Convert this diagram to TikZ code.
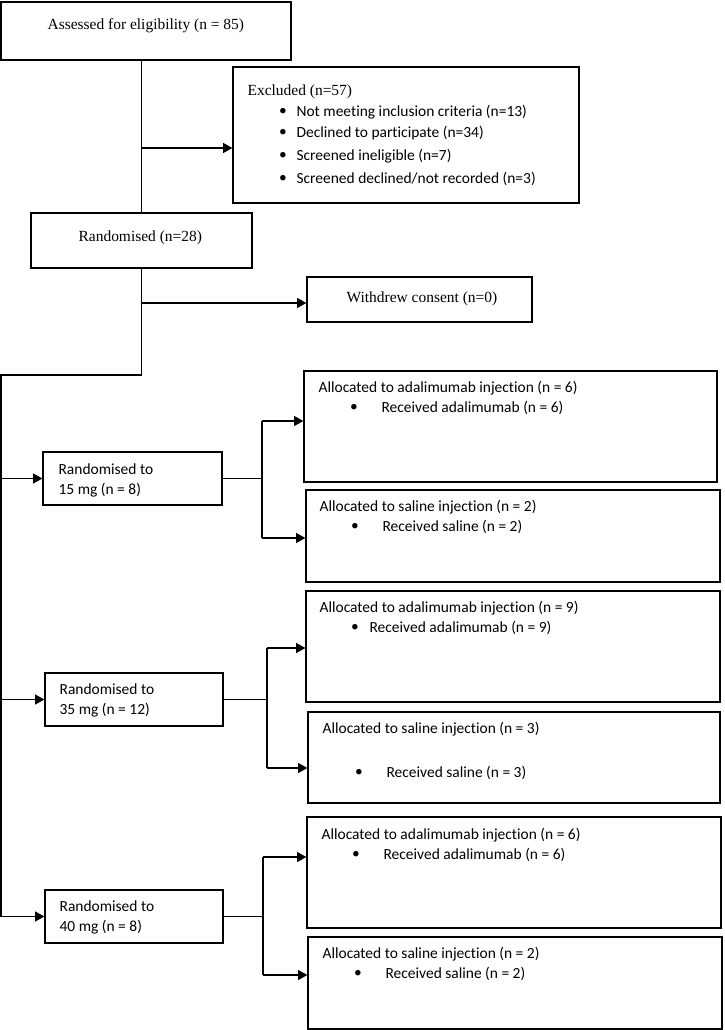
\documentclass[tikz,border=0pt]{standalone}
\usepackage{fontspec}
\setmainfont{Liberation Serif}
\newfontfamily\calibri[Ligatures=NoCommon]{Carlito}
\usetikzlibrary{arrows.meta,fit}

\begin{document}
\begin{tikzpicture}[x=0.75pt, y=-0.75pt, line width=0.9pt]
	\tikzset{
	  BoxStyle/.style = {draw, inner sep=0pt, fit={#1}},
	  TimesStyle/.style = {inner sep=0pt, anchor=west,
	                       font=\fontsize{11.6}{14}\selectfont},
	  CalStyle/.style = {inner sep=0pt, anchor=west, align=left,
	                     font=\calibri\fontsize{11.6}{15}\selectfont},
	  DotStyle/.style = {CalStyle, anchor=center},
	  EdgeStyle/.style = {-{Triangle[length=7pt, width=7.5pt]}} }
	\useasboundingbox (0,0) rectangle (724,1030);
%	\draw[help lines, step=50] (0,0) grid (724,1030);
	\node[BoxStyle={(1,2) (291,60)}] (assess) {};
	\node[BoxStyle={(233,67) (579,203)}] (excl) {};
	\node[BoxStyle={(31,213) (252,268)}] (rand) {};
	\node[BoxStyle={(307,277) (532,322)}] (withdrew) {};
	\node[BoxStyle={(43,452) (222,505)}] (dose15) {};
	\node[BoxStyle={(45,673) (223,726)}] (dose35) {};
	\node[BoxStyle={(45,890) (223,943)}] (dose40) {};
	\node[BoxStyle={(304,371) (717,482)}] (ada15) {};
	\node[BoxStyle={(306,490) (720,582)}] (sal15) {};
	\node[BoxStyle={(306,591) (720,702)}] (ada35) {};
	\node[BoxStyle={(308,712) (720,803)}] (sal35) {};
	\node[BoxStyle={(307,817) (721,928)}] (ada40) {};
	\node[BoxStyle={(308,937) (722,1029)}] (sal40) {};

	\node[TimesStyle] (assess-t) at (47,26) {Assessed for eligibility (n = 85)};
	\node[TimesStyle] (excl-t) at (247,92) {Excluded (n=57)};
	\foreach \y/\txt [count=\i] in {112/{Not meeting inclusion criteria (n=13)},
	    133/{Declined to participate (n=34)}, 156/{Screened ineligible (n=7)},
	    179/{Screened declined/not recorded (n=3)}} {
	  \node[DotStyle] (excl-b\i) at (283,\y) {\textbullet};
	  \node[CalStyle] (excl-i\i) at (296,\y) {\txt};
	}
	\node[TimesStyle] (rand-t) at (78,238) {Randomised (n=28)};
	\node[TimesStyle] (withdrew-t) at (346,299) {Withdrew consent (n=0)};

	\node[CalStyle] (dose15-t) at (58,480) {Randomised to\\15 mg (n = 8)};
	\node[CalStyle] (dose35-t) at (59,700) {Randomised to\\35 mg (n = 12)};
	\node[CalStyle] (dose40-t) at (59,917) {Randomised to\\40 mg (n = 8)};

	\node[CalStyle] (ada15-t) at (318,388) {Allocated to adalimumab injection (n = 6)};
	\node[DotStyle] (ada15-b) at (354,408) {\textbullet};
	\node[CalStyle] (ada15-i) at (381,408) {Received adalimumab (n = 6)};
	\node[CalStyle] (sal15-t) at (319,507) {Allocated to saline injection (n = 2)};
	\node[DotStyle] (sal15-b) at (355,527) {\textbullet};
	\node[CalStyle] (sal15-i) at (382,527) {Received saline (n = 2)};
	\node[CalStyle] (ada35-t) at (319,608) {Allocated to adalimumab injection (n = 9)};
	\node[DotStyle] (ada35-b) at (355,628) {\textbullet};
	\node[CalStyle] (ada35-i) at (369,628) {Received adalimumab (n = 9)};
	\node[CalStyle] (sal35-t) at (322,729) {Allocated to saline injection (n = 3)};
	\node[DotStyle] (sal35-b) at (359,773) {\textbullet};
	\node[CalStyle] (sal35-i) at (386,773) {Received saline (n = 3)};
	\node[CalStyle] (ada40-t) at (321,835) {Allocated to adalimumab injection (n = 6)};
	\node[DotStyle] (ada40-b) at (356,855) {\textbullet};
	\node[CalStyle] (ada40-i) at (383,855) {Received adalimumab (n = 6)};
	\node[CalStyle] (sal40-t) at (322,954) {Allocated to saline injection (n = 2)};
	\node[DotStyle] (sal40-b) at (358,974) {\textbullet};
	\node[CalStyle] (sal40-i) at (385,974) {Received saline (n = 2)};

	\coordinate (j1) at (141,148);
	\coordinate (j2) at (141,303);
	\coordinate (j3) at (1,375);
	\draw (assess.south -| rand.north) -- (rand.north);
	\draw[EdgeStyle] (j1) -- (j1 -| excl.west);
	\draw[EdgeStyle] (j2) -- (j2 -| withdrew.west);
	\draw (rand.south) |- (j3) -- (j3 |- dose40.west);
	\foreach \g/\x/\ya/\ys in {15/262/421/538, 35/267/648/768, 40/263/857/975} {
	  \coordinate (a\g) at (\x,\ya);
	  \coordinate (s\g) at (\x,\ys);
	  \draw[EdgeStyle] (j3 |- dose\g.west) -- (dose\g.west);
	  \draw (dose\g.east) -- (dose\g.east -| a\g);
	  \draw (a\g) -- (s\g);
	  \draw[EdgeStyle] (a\g) -- (a\g -| ada\g.west);
	  \draw[EdgeStyle] (s\g) -- (s\g -| sal\g.west);
	}
\end{tikzpicture}
\end{document}
